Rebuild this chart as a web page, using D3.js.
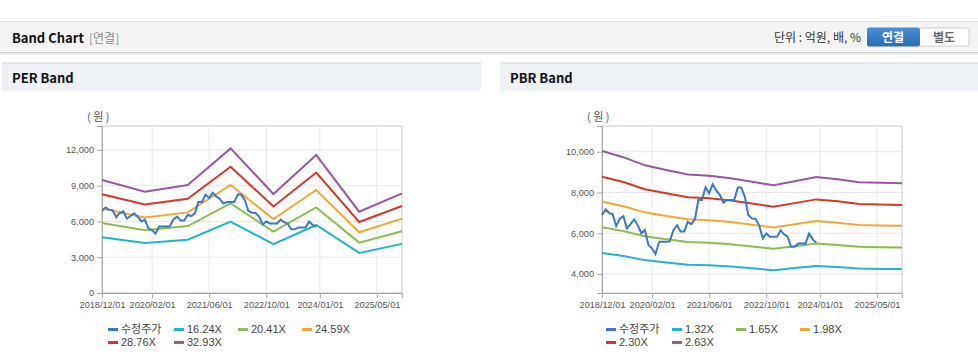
<!DOCTYPE html>
<html>
<head>
<meta charset="utf-8">
<script src="https://cdn.jsdelivr.net/npm/d3@7"></script>
<style>
body { margin: 0; background: #fff; overflow: hidden; }
svg { display: block; font-family: "Noto Sans CJK KR", "Noto Sans", sans-serif; }
</style>
</head>
<body>
<svg id="chart" width="978" height="361"></svg>
<script>
// 데이터
const xTickLabels = ["2018/12/01", "2020/02/01", "2021/06/01", "2022/10/01", "2024/01/01", "2025/05/01"];

// PER 밴드 (연간 꼭짓점)
const perDates = ["2018-12-01", "2019-12-01", "2020-12-01", "2021-12-01", "2022-12-01", "2023-12-01", "2024-12-01", "2025-12-01"];
const per1624 = [4671, 4187, 4463, 5980, 4092, 5703, 3362, 4120];
const per2041 = [5870, 5262, 5609, 7515, 5143, 7168, 4225, 5178];
const per2459 = [7072, 6339, 6757, 9054, 6197, 8636, 5090, 6238];
const per2876 = [8271, 7414, 7903, 10589, 7248, 10101, 5953, 7296];
const per3293 = [9470, 8490, 9049, 12125, 8298, 11565, 6817, 8354];

// PBR 밴드 (반기 꼭짓점)
const pbrDates = ["2018-12-01", "2019-06-01", "2019-12-01", "2020-06-01", "2020-12-01", "2021-06-01", "2021-12-01", "2022-06-01",
  "2022-12-01", "2023-06-01", "2023-12-01", "2024-06-01", "2024-12-01", "2025-06-01", "2025-12-01"];
const pbr132 = [5036, 4884, 4683, 4567, 4456, 4427, 4367, 4281, 4191, 4291, 4397, 4341, 4266, 4252, 4241];
const pbr165 = [6295, 6105, 5854, 5709, 5570, 5534, 5458, 5351, 5239, 5364, 5496, 5427, 5333, 5315, 5301];
const pbr198 = [7554, 7326, 7025, 6851, 6684, 6641, 6550, 6421, 6287, 6437, 6595, 6512, 6399, 6378, 6362];
const pbr230 = [8775, 8510, 8160, 7958, 7765, 7714, 7608, 7459, 7303, 7477, 7661, 7565, 7434, 7408, 7390];
const pbr263 = [10034, 9731, 9331, 9100, 8879, 8821, 8700, 8529, 8350, 8550, 8761, 8650, 8500, 8471, 8450];

// 수정주가 (월별, 2018/12 ~ 2023/12)
const priceStart = "2018-12-01";
const price = [6890, 7170, 6980, 6950, 6350, 6700, 6840, 6240, 6450, 6680, 6400, 6000, 6150, 5420, 5250, 4980,
  5580, 5580, 5580, 5600, 6160, 6400, 6080, 6080, 6560, 6450, 6700, 7630, 7630, 8250, 7960, 8400, 8100, 7875,
  7500, 7630, 7630, 7630, 8250, 8250, 7800, 6900, 6730, 6700, 6400, 5750, 5990, 5830, 5830, 5830, 6150, 5950,
  5830, 5340, 5340, 5500, 5500, 5500, 5990, 5700, 5540];

const colors = ["#3a78c8", "#22b5c8", "#8cbc4f", "#f5a732", "#d8352a", "#9a55a5"];

const parse = d3.timeParse("%Y-%m-%d");
const priceDates = d3.range(price.length).map(i => d3.timeMonth.offset(parse(priceStart), i));

const svg = d3.select("#chart");

// 상단 헤더
svg.append("rect").attr("x", 0).attr("y", 21).attr("width", 978).attr("height", 1).attr("fill", "#dcdcdc");
svg.append("rect").attr("x", 0).attr("y", 22).attr("width", 978).attr("height", 30).attr("fill", "#f4f4f4");
svg.append("rect").attr("x", 0).attr("y", 52).attr("width", 978).attr("height", 1).attr("fill", "#cfcfcf");
svg.append("rect").attr("x", 0).attr("y", 53).attr("width", 978).attr("height", 2).attr("fill", "#ececec");
svg.append("text").attr("x", 12).attr("y", 43).attr("font-size", 13).attr("font-weight", "bold").attr("fill", "#111").text("Band Chart");
svg.append("text").attr("x", 89).attr("y", 43).attr("font-size", 12).attr("fill", "#8a8a8a").text("[연결]");
svg.append("text").attr("x", 861).attr("y", 42).attr("font-size", 12).attr("text-anchor", "end").attr("fill", "#333").text("단위 : 억원, 배, %");

const grad = svg.append("defs").append("linearGradient").attr("id", "btn").attr("x1", 0).attr("y1", 0).attr("x2", 0).attr("y2", 1);
grad.append("stop").attr("offset", "0%").attr("stop-color", "#4a8fd2");
grad.append("stop").attr("offset", "100%").attr("stop-color", "#2a6cb2");
svg.append("rect").attr("x", 919).attr("y", 28).attr("width", 50).attr("height", 18).attr("rx", 2).attr("fill", "#fff").attr("stroke", "#d0d0d0");
svg.append("rect").attr("x", 867).attr("y", 27.5).attr("width", 53).attr("height", 19).attr("rx", 2).attr("fill", "url(#btn)");
svg.append("text").attr("x", 893).attr("y", 42).attr("font-size", 12).attr("font-weight", "bold").attr("text-anchor", "middle").attr("fill", "#fff").text("연결");
svg.append("text").attr("x", 944).attr("y", 42).attr("font-size", 12).attr("font-weight", "bold").attr("text-anchor", "middle").attr("fill", "#666").text("별도");

function drawPanel(opt) {
  const g = svg.append("g");
  // 패널 제목
  g.append("rect").attr("x", opt.px).attr("y", 62).attr("width", 479).attr("height", 2).attr("fill", "#e3e6eb");
  g.append("rect").attr("x", opt.px).attr("y", 64).attr("width", 479).attr("height", 27).attr("fill", "#eef1f6");
  g.append("text").attr("x", opt.px + 10).attr("y", 83).attr("font-size", 13).attr("font-weight", "bold").attr("fill", "#111").text(opt.title);

  const x = d3.scaleTime().domain([parse("2018-12-01"), parse("2025-12-01")]).range([opt.left, opt.left + 300]);
  const y = d3.scaleLinear().domain(opt.yDomain).range([293, 126]);
  const xTicks = xTickLabels.map(s => parse(s.replace(/\//g, "-")));

  // 격자
  g.append("g").selectAll("line").data(opt.yTicks).join("line")
    .attr("x1", opt.left).attr("x2", opt.left + 300).attr("y1", d => y(d)).attr("y2", d => y(d))
    .attr("stroke", "#e8e8e8");
  g.append("g").selectAll("line").data(xTicks).join("line")
    .attr("x1", d => x(d)).attr("x2", d => x(d)).attr("y1", 126).attr("y2", 293)
    .attr("stroke", "#e8e8e8");
  g.append("rect").attr("x", opt.left).attr("y", 126).attr("width", 300).attr("height", 167)
    .attr("fill", "none").attr("stroke", "#cccccc");

  // 축
  const yAxis = g.append("g").attr("transform", `translate(${opt.left},0)`)
    .call(d3.axisLeft(y).tickValues(opt.yTicks).tickSize(5).tickPadding(3).tickFormat(d3.format(",")));
  const xAxis = g.append("g").attr("transform", "translate(0,293)")
    .call(d3.axisBottom(x).tickValues(xTicks).tickSize(5).tickPadding(3).tickFormat((d, i) => xTickLabels[i]));
  [yAxis, xAxis].forEach(a => {
    a.select(".domain").attr("stroke", "#a8a8a8");
    a.selectAll(".tick line").attr("stroke", "#a8a8a8");
    a.selectAll("text").attr("fill", "#555").attr("font-size", 9.2)
      .attr("font-family", "'Liberation Sans', Arial, sans-serif");
  });
  g.append("text").attr("x", opt.left - 15).attr("y", 121).attr("font-size", 11).attr("fill", "#555")
    .text("( 원 )");

  // 밴드 선
  const line = d3.line().x(d => x(d[0])).y(d => y(d[1]));
  opt.bands.forEach((vals, i) => {
    g.append("path").datum(vals.map((v, j) => [parse(opt.bandDates[j]), v]))
      .attr("d", line).attr("fill", "none").attr("stroke", colors[i + 1]).attr("stroke-width", 2);
  });
  g.append("path").datum(price.map((v, j) => [priceDates[j], v]))
    .attr("d", line).attr("fill", "none").attr("stroke", colors[0]).attr("stroke-width", 2);

  // 범례
  const names = ["수정주가"].concat(opt.multiples);
  const lx = [0, 66, 130, 194];
  names.forEach((n, i) => {
    const col = i % 4, row = Math.floor(i / 4);
    const xx = opt.px + 106 + lx[col], yy = 329 + row * 13;
    g.append("rect").attr("x", xx).attr("y", yy - 1).attr("width", 10).attr("height", 3).attr("fill", colors[i]);
    g.append("text").attr("x", xx + 13).attr("y", yy + 4).attr("font-size", 11)
      .attr("font-family", i === 0 ? "'Noto Sans CJK KR', sans-serif" : "'Liberation Sans', Arial, sans-serif")
      .attr("fill", "#444").text(n);
  });
}

drawPanel({
  px: 2, left: 102, title: "PER Band",
  yDomain: [0, 14000], yTicks: [0, 3000, 6000, 9000, 12000],
  bandDates: perDates, bands: [per1624, per2041, per2459, per2876, per3293],
  multiples: ["16.24X", "20.41X", "24.59X", "28.76X", "32.93X"]
});
drawPanel({
  px: 500, left: 602, title: "PBR Band",
  yDomain: [3070, 11260], yTicks: [4000, 6000, 8000, 10000],
  bandDates: pbrDates, bands: [pbr132, pbr165, pbr198, pbr230, pbr263],
  multiples: ["1.32X", "1.65X", "1.98X", "2.30X", "2.63X"]
});
</script>
</body>
</html>
